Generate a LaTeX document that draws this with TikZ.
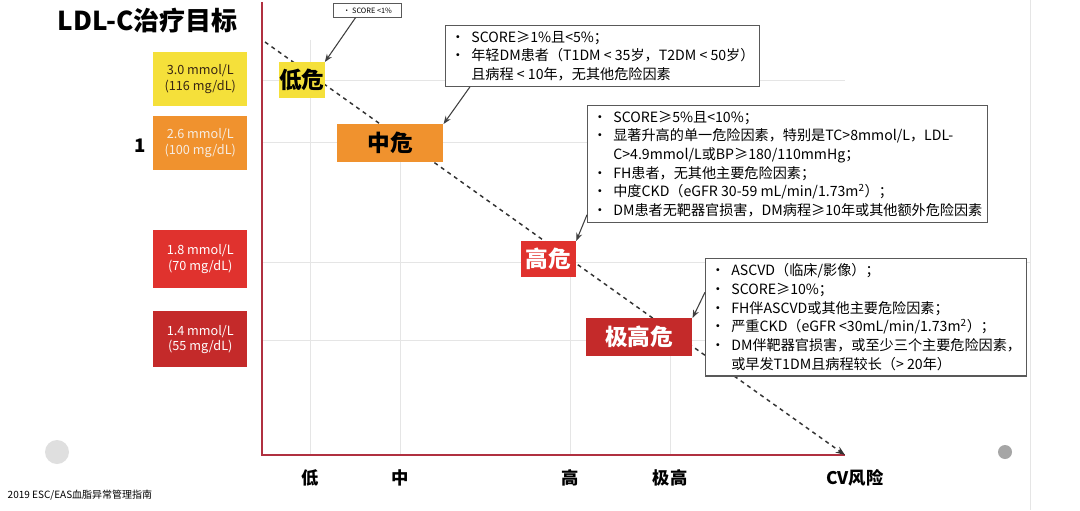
\documentclass[tikz,border=0pt]{standalone}
\usepackage{fontspec}
\setmainfont{Noto Sans CJK SC}
\usetikzlibrary{arrows.meta}
\definecolor{axisred}{HTML}{B03040}
\definecolor{ylw}{HTML}{F5E03A}
\definecolor{org}{HTML}{F0922E}
\definecolor{rd}{HTML}{E0322E}
\definecolor{drd}{HTML}{C42A2A}
\tikzset{
 lvl/.style={minimum width=70.5pt,minimum height=40pt,align=center,font=\fontsize{9.5}{11.5}\selectfont,inner sep=1pt},
 risk/.style={font=\bfseries\fontsize{17}{19}\selectfont,inner sep=0pt,anchor=north west},
 call/.style={draw=gray!70!black,fill=white,line width=0.8pt,align=left,anchor=north west,font=\fontsize{10.6}{14}\selectfont,inner sep=4pt},
 arr/.style={-{Stealth[length=6pt]},gray!50!black,line width=0.8pt},
 grid/.style={gray!20,line width=0.6pt},
 xl/.style={font=\bfseries\fontsize{13}{15}\selectfont}
}
\begin{document}
\begin{tikzpicture}[x=0.75pt,y=-0.75pt]
\useasboundingbox[fill=white] (0,0) rectangle (1080,510);
% grid
\draw[grid] (262,80)--(845,80) (262,142)--(845,142) (262,262)--(1030,262) (262,340)--(845,340);
\draw[grid] (310,40)--(310,455) (400,142)--(400,455) (570,262)--(570,455) (670,340)--(670,455);
\draw[grid] (1030,0)--(1030,510);
\fill[gray!25] (57,452) circle (12);
\fill[gray!70] (1005,452) circle (7);
% title
\node[font=\bfseries\fontsize{19.5}{22}\selectfont,anchor=west] (title) at (53,21) {LDL-C治疗目标};
% axes
\draw[axisred,line width=1.2pt] (262,2) -- (262,455) -- (845,455);
% diagonal
\coordinate (d0) at (265,42);
\coordinate (d1) at (845,455);
\draw[dashed,line width=1.1pt,black!80,-{Stealth[length=7pt]}] (d0) -- (d1);
% left levels
\node[lvl,fill=ylw,text=black!70!brown,anchor=north west] (l1) at (153,52) {3.0 mmol/L\\(116 mg/dL)};
\node[lvl,fill=org,text=white!85!brown,anchor=north west] (l2) at (153,116) {2.6 mmol/L\\(100 mg/dL)};
\node[lvl,fill=rd,text=white,anchor=north west,minimum height=43pt] (l3) at (153,230) {1.8 mmol/L\\(70 mg/dL)};
\node[lvl,fill=drd,text=white,anchor=north west,minimum height=42pt] (l4) at (153,311) {1.4 mmol/L\\(55 mg/dL)};
\node[font=\fontsize{14}{16}\selectfont\bfseries] (one) at (140,146) {1};
% risk nodes
\node[risk,fill=ylw,minimum width=33pt,minimum height=27pt] (r1) at (279,62) {低危};
\node[risk,fill=org,minimum width=79.5pt,minimum height=28.5pt] (r2) at (337,124) {中危};
\node[risk,fill=rd,text=white,minimum width=41pt,minimum height=27pt] (r3) at (521,241) {高危};
\node[risk,fill=drd,text=white,minimum width=79.5pt,minimum height=28pt] (r4) at (586,318) {极高危};
% callouts
\node[call,font=\fontsize{5.5}{7}\selectfont,inner sep=3pt,minimum width=51pt] (c1) at (333,3) {• SCORE <1\%};
\node[call] (c2) at (445,25) {• \ SCORE≥1\%且<5\%；\\• \ 年轻DM患者（T1DM < 35岁，T2DM < 50岁）\\\phantom{• \ }且病程 < 10年，无其他危险因素};
\node[call] (c3) at (587,105) {• \ SCORE≥5\%且<10\%；\\• \ 显著升高的单一危险因素，特别是TC>8mmol/L，LDL-\\\phantom{• \ }C>4.9mmol/L或BP≥180/110mmHg；\\• \ FH患者，无其他主要危险因素；\\• \ 中度CKD（eGFR 30-59 mL/min/1.73m\textsuperscript{2}）；\\• \ DM患者无靶器官损害，DM病程≥10年或其他额外危险因素};
\node[call] (c4) at (705,258) {• \ ASCVD（临床/影像）；\\• \ SCORE≥10\%；\\• \ FH伴ASCVD或其他主要危险因素；\\• \ 严重CKD（eGFR <30mL/min/1.73m\textsuperscript{2}）；\\• \ DM伴靶器官损害，或至少三个主要危险因素，\\\phantom{• \ }或早发T1DM且病程较长（> 20年）};
\draw[arr] (c1.south) ++(-12,0) -- (r1.north east);
\draw[arr] (c2.south west) ++(25,0) -- (r2.north east);
\draw[arr] (c3.south west) ++(0,-8) -- (r3.north east);
\draw[arr] (c4.west) ++(0,-25) -- (r4.north east);
% x labels
\node[xl] (x1) at (310,478) {低};
\node[xl] (x2) at (400,478) {中};
\node[xl] (x3) at (570,478) {高};
\node[xl] (x4) at (670,478) {极高};
\node[xl] (x5) at (855,478) {CV风险};
\node[anchor=west,font=\fontsize{7.5}{9}\selectfont] (foot) at (3,495) {2019 ESC/EAS血脂异常管理指南};
\end{tikzpicture}
\end{document}
